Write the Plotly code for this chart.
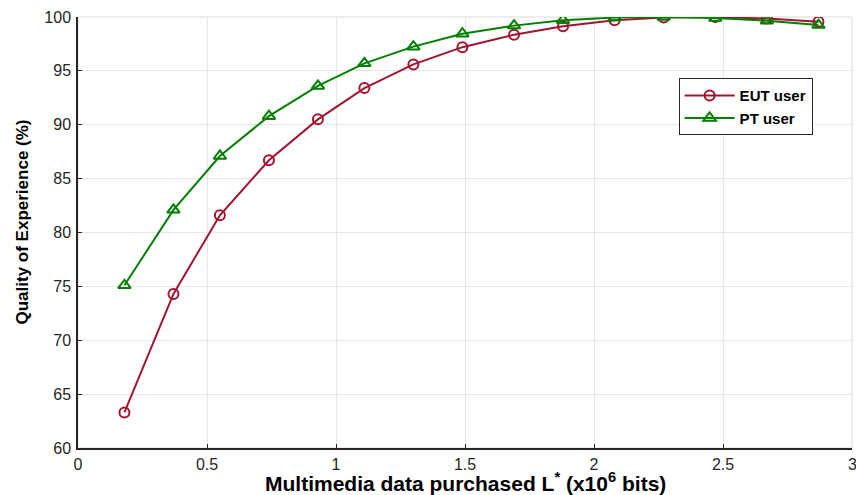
import plotly.graph_objects as go

data_x = [0.18, 0.37, 0.55, 0.74, 0.93, 1.11, 1.30, 1.49, 1.69, 1.88, 2.08, 2.27, 2.47, 2.67, 2.87]
eut_qoe = [63.3, 74.3, 81.6, 86.7, 90.5, 93.4, 95.6, 97.2, 98.35, 99.15, 99.7, 99.95, 100.0, 99.85, 99.55]
pt_qoe = [75.1, 82.1, 87.1, 90.8, 93.6, 95.7, 97.25, 98.45, 99.2, 99.7, 99.95, 100.0, 99.9, 99.65, 99.25]

x_ticks = [0, 0.5, 1, 1.5, 2, 2.5, 3]
x_tick_labels = ["0", "0.5", "1", "1.5", "2", "2.5", "3"]
y_ticks = [60, 65, 70, 75, 80, 85, 90, 95, 100]

EUT_COLOR = "#A2142F"
PT_COLOR = "#008000"

fig = go.Figure()
fig.add_trace(go.Scatter(
    x=data_x, y=eut_qoe, name="EUT user", mode="lines+markers",
    line=dict(color=EUT_COLOR, width=2),
    marker=dict(symbol="circle-open", size=10, color=EUT_COLOR, line=dict(width=2, color=EUT_COLOR)),
))
fig.add_trace(go.Scatter(
    x=data_x, y=pt_qoe, name="PT user", mode="lines+markers",
    line=dict(color=PT_COLOR, width=2),
    marker=dict(symbol="triangle-up-open", size=11, color=PT_COLOR, line=dict(width=2, color=PT_COLOR)),
))

FAM = "Liberation Sans, Arial, sans-serif"
axis_font = dict(family=FAM, size=16, color="#262626")

# the last tick label sits on the div edge, where plotly hides it,
# so it is drawn as an annotation placed through the x scale
axis_ticktext = x_tick_labels[:-1] + [""]
edge_label = dict(
    text=x_tick_labels[-1], xref="x", yref="paper", x=x_ticks[-1], y=0,
    xanchor="center", yanchor="middle", yshift=-16, showarrow=False,
    font=axis_font,
)

fig.update_layout(
    width=856, height=495,
    margin=dict(l=78, r=4, t=17, b=47),
    paper_bgcolor="white", plot_bgcolor="white",
    font=axis_font,
    showlegend=True,
    hovermode=False,
    legend=dict(
        x=0.776, y=0.858, xanchor="left", yanchor="top",
        bgcolor="white", bordercolor="#262626", borderwidth=1,
        font=dict(family=FAM, size=15, color="#000000", weight="bold"),
        tracegroupgap=0, itemwidth=50,
    ),
    xaxis=dict(
        range=[0, 3], tickvals=x_ticks, ticktext=axis_ticktext,
        showgrid=True, gridcolor="#e6e6e6", gridwidth=1,
        showline=True, linecolor="#262626", linewidth=1.5,
        ticks="inside", ticklen=4, tickcolor="#262626",
        ticklabelstandoff=1,
        zeroline=False, tickfont=axis_font, automargin=False,
    ),
    yaxis=dict(
        range=[60, 100], tickvals=y_ticks,
        showgrid=True, gridcolor="#e6e6e6", gridwidth=1,
        showline=True, linecolor="#262626", linewidth=1.5,
        ticks="inside", ticklen=4, tickcolor="#262626",
        ticklabelstandoff=2,
        zeroline=False, tickfont=axis_font, automargin=False,
    ),
    annotations=[
        dict(
            text="Multimedia data purchased L<sup>*</sup> (x10<sup>6</sup> bits)",
            xref="paper", yref="paper", x=0.5, y=0, xanchor="center", yanchor="top",
            yshift=-19, showarrow=False,
            font=dict(family=FAM, size=21, color="#000000", weight="bold"),
        ),
        dict(
            text="Quality of Experience (%)", textangle=-90,
            xref="paper", yref="paper", x=0, y=0.5, xanchor="center", yanchor="middle",
            xshift=-56, yshift=10, showarrow=False,
            font=dict(family=FAM, size=17, color="#000000", weight="bold"),
        ),
        edge_label,
    ],
    shapes=[dict(type="rect", xref="paper", yref="paper", x0=0, y0=0, x1=1, y1=1,
                 line=dict(color="#d9d9d9", width=1), layer="below")],
)

# remove the default page margin so the 856x495 figure fills the window exactly
fig.write_html(
    "out.html",
    config={"displayModeBar": False},
    post_script="document.body.style.margin='0px';document.body.style.overflow='hidden';",
)
